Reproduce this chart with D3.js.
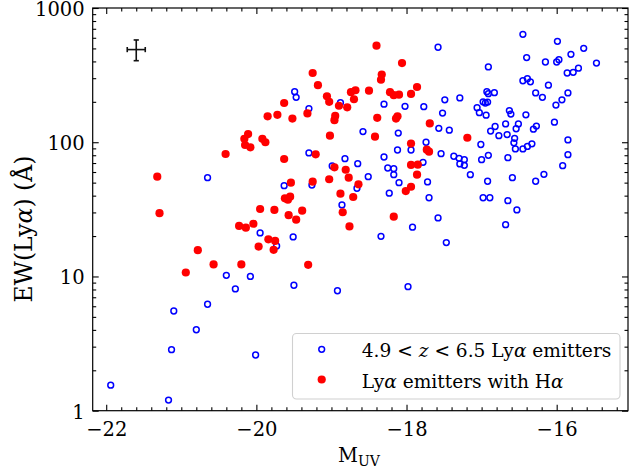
<!DOCTYPE html>
<html>
<head>
<meta charset="utf-8">
<script src="https://cdn.jsdelivr.net/npm/d3@7"></script>
<style>
  html, body { margin: 0; padding: 0; background: #fff; }
  svg { display: block; }
  text { font-family: "DejaVu Serif", serif; fill: #000; }
</style>
</head>
<body>
<script>
// ---- data ----
const blueMUV = [-17.58,-19.49,-19.47,-19.30,-18.88,-18.30,-18.02,-17.77,-17.49,-17.52,-17.57,-18.58,-18.11,-17.74,
  -16.45,-15.99,-15.64,-15.81,-16.40,-16.15,-16.00,-15.97,-15.47,-16.91,-15.71,-15.78,-15.86,-16.45,-16.39,-16.35,
  -16.11,-16.93,-16.91,-16.83,-16.28,-16.19,-15.85,-15.93,-17.29,-16.98,-16.95,-16.92,-16.01,-17.06,-17.03,-16.94,
  -16.63,-16.61,-16.41,-16.03,-17.43,-16.82,-16.88,-16.68,-16.51,-16.54,-16.27,-16.31,-16.77,-16.66,-16.56,-15.85,
  -17.01,-16.57,-16.33,-16.39,-20.65,-19.95,-20.40,-20.08,-20.28,-20.65,-21.10,-20.80,-21.13,-20.01,-21.94,-21.17,
  -19.30,-18.82,-18.65,-18.99,-18.51,-19.26,-19.63,-18.66,-18.86,-18.30,-18.25,-18.17,-18.17,-18.12,-17.94,-17.54,
  -17.78,-18.10,-17.72,-18.23,-17.70,-17.58,-17.92,-18.34,-19.51,-19.73,-17.47,-17.37,-17.30,-17.23,-17.29,-17.23,
  -16.91,-17.00,-16.55,-16.45,-16.65,-15.85,-15.92,-16.17,-16.28,-16.59,-17.15,-16.92,-16.98,-16.89,-16.65,-16.53,
  -16.68,-19.50,-18.92,-17.98];
const blueEW = [510,238,216,178,197,192,185,184,207,165,127,120,117,100,
  637,565,501,452,427,396,396,412,389,364,356,332,328,287,297,282,
  266,238,230,234,233,216,233,207,214,200,196,199,189,181,166,159,
  172,162,160,141,123,131,121,137,137,126,132,125,112,114,107,104,
  96.2,99,97.3,93.0,54.4,21.1,10.2,10.0,8.07,6.21,5.53,4.01,2.85,2.60,1.55,1.20,
  83.2,75.4,69.2,66.5,55.4,48.0,47.5,45.4,34.1,77.6,64.3,63.5,57.3,87.5,87.5,82.2,
  70.9,50.0,50.6,41.7,38.6,27.3,23.3,19.9,19.7,16.9,17.9,78.6,75.9,74.1,68.9,67.3,
  79.9,74.1,89.1,89.1,76.7,80.8,66.9,57.7,51.2,54.4,57.3,51.2,38.6,38.6,36.7,31.3,
  24.3,8.60,7.83,8.39];

const redMUV = [-18.40,-18.06,-19.25,-18.33,-18.34,-19.18,-17.86,-18.74,-18.68,-18.50,-18.22,-18.17,-18.10,-17.94,
  -19.06,-19.03,-18.70,-19.63,-18.90,-18.79,-19.85,-19.72,-19.52,-19.32,-18.95,-18.96,-18.39,-18.12,-18.14,-17.69,
  -19.02,-18.42,-17.94,-20.11,-20.16,-20.15,-20.08,-19.92,-19.88,-17.19,-20.41,-21.32,-21.29,-19.95,-20.23,-20.14,
  -20.04,-19.84,-19.97,-20.78,-20.57,-20.20,-20.94,-19.63,-19.21,-18.96,-18.81,-18.77,-19.03,-19.25,-19.54,-18.64,
  -19.62,-19.55,-19.58,-18.88,-18.71,-19.76,-19.39,-19.57,-19.47,-18.85,-18.76,-18.17,-17.73,-17.70,-17.94,-17.85,
  -17.86,-17.94,-18.01,-19.75,-19.77,-19.31];
const redEW = [524,389,328,319,292,266,258,236,244,242,236,224,226,229,
  220,200,209,196,187,182,156,160,150,164,157,146,152,156,150,138,
  112,110,97.7,115,106,95.4,91.7,106,100,108,81.7,55.4,29.6,31.8,23.8,23.1,
  24.7,18.9,16.7,15.7,12.3,12.3,10.7,75.0,81.3,65.0,62.4,54.4,53.0,50.8,50.0,48.6,
  38.2,39.3,37.3,41.4,39.1,31.3,30.9,28.6,26.5,30.1,23.6,27.9,88.0,85.1,67.7,68.0,
  57.3,46.6,43.3,18.4,15.8,12.2];

// typical uncertainty marker
const errCenter = [-21.6, 490];
const errMUV = 0.12;
const errEWRange = [405, 578];

const xMajorTicks = [-22, -20, -18, -16];
const yMajorTicks = [1, 10, 100, 1000];
const yTickLabels = ["1", "10", "100", "1000"];

// ---- layout ----
const W = 630, H = 472;
const L = 92.7, R = 628, T = 8, B = 410.7;

const svg = d3.select("body").append("svg").attr("width", W).attr("height", H);

const x = d3.scaleLinear().domain([-22.18, -15.05]).range([L, R]);
const y = d3.scaleLog().domain([1, 1000]).range([B, T]);

// points
const blue = blueMUV.map((v, i) => ({ x: v, y: blueEW[i] }));
const red = redMUV.map((v, i) => ({ x: v, y: redEW[i] }));

svg.append("g").selectAll("circle").data(blue).join("circle")
  .attr("cx", d => x(d.x)).attr("cy", d => y(d.y)).attr("r", 2.9)
  .attr("fill", "none").attr("stroke", "#0000ff").attr("stroke-width", 1.5);

svg.append("g").selectAll("circle").data(red).join("circle")
  .attr("cx", d => x(d.x)).attr("cy", d => y(d.y)).attr("r", 4.1)
  .attr("fill", "#ff0000");

// error bar marker
const eg = svg.append("g").attr("stroke", "#111").attr("stroke-width", 1.6);
const ex = x(errCenter[0]), ey = y(errCenter[1]);
const ex0 = x(errCenter[0] - errMUV), ex1 = x(errCenter[0] + errMUV);
const ey0 = y(errEWRange[0]), ey1 = y(errEWRange[1]);
eg.append("line").attr("x1", ex0).attr("x2", ex1).attr("y1", ey).attr("y2", ey);
eg.append("line").attr("x1", ex).attr("x2", ex).attr("y1", ey0).attr("y2", ey1);
eg.append("line").attr("x1", ex0).attr("x2", ex0).attr("y1", ey - 2.6).attr("y2", ey + 2.6);
eg.append("line").attr("x1", ex1).attr("x2", ex1).attr("y1", ey - 2.6).attr("y2", ey + 2.6);
eg.append("line").attr("x1", ex - 2.6).attr("x2", ex + 2.6).attr("y1", ey0).attr("y2", ey0);
eg.append("line").attr("x1", ex - 2.6).attr("x2", ex + 2.6).attr("y1", ey1).attr("y2", ey1);

// ---- axes (ticks inward on all sides) ----
const xMinor = d3.range(-22.0, -15.05, 0.2).map(v => +v.toFixed(2)).filter(v => !xMajorTicks.includes(v));
const yMinor = [];
[1, 10, 100].forEach(dec => { for (let k = 2; k <= 9; k++) yMinor.push(dec * k); });

const fmtX = d => (d < 0 ? "\u2212" : "") + Math.abs(d);

const gB = svg.append("g").attr("transform", `translate(0,${B})`)
  .call(d3.axisBottom(x).tickValues(xMajorTicks).tickSizeInner(-6).tickSizeOuter(0).tickPadding(11).tickFormat(fmtX));
const gBm = svg.append("g").attr("transform", `translate(0,${B})`)
  .call(d3.axisBottom(x).tickValues(xMinor).tickSizeInner(-3.5).tickSizeOuter(0).tickFormat(""));
const gT = svg.append("g").attr("transform", `translate(0,${T})`)
  .call(d3.axisTop(x).tickValues(xMajorTicks).tickSizeInner(-6).tickSizeOuter(0).tickFormat(""));
const gTm = svg.append("g").attr("transform", `translate(0,${T})`)
  .call(d3.axisTop(x).tickValues(xMinor).tickSizeInner(-3.5).tickSizeOuter(0).tickFormat(""));
const gL = svg.append("g").attr("transform", `translate(${L},0)`)
  .call(d3.axisLeft(y).tickValues(yMajorTicks).tickSizeInner(-6).tickSizeOuter(0).tickPadding(8)
    .tickFormat((d, i) => yTickLabels[i]));
const gLm = svg.append("g").attr("transform", `translate(${L},0)`)
  .call(d3.axisLeft(y).tickValues(yMinor).tickSizeInner(-3.5).tickSizeOuter(0).tickFormat(""));
const gR = svg.append("g").attr("transform", `translate(${R},0)`)
  .call(d3.axisRight(y).tickValues(yMajorTicks).tickSizeInner(-6).tickSizeOuter(0).tickFormat(""));
const gRm = svg.append("g").attr("transform", `translate(${R},0)`)
  .call(d3.axisRight(y).tickValues(yMinor).tickSizeInner(-3.5).tickSizeOuter(0).tickFormat(""));

[gB, gBm, gT, gTm, gL, gLm, gR, gRm].forEach(g => {
  g.select(".domain").remove();
  g.selectAll(".tick line").attr("stroke", "#000").attr("stroke-width", 1.1);
  g.selectAll("text").attr("font-family", "DejaVu Serif").attr("font-size", 19.5).attr("fill", "#000");
});
gL.selectAll(".tick text").attr("dy", "0.38em");

// frame
svg.append("rect").attr("x", L).attr("y", T).attr("width", R - L).attr("height", B - T)
  .attr("fill", "none").attr("stroke", "#000").attr("stroke-width", 1.2);

// axis labels
const xl = svg.append("text").attr("x", 338).attr("y", 461.5).attr("font-size", 19.5);
xl.append("tspan").text("M");
xl.append("tspan").attr("font-size", 14).attr("dy", 4).text("UV");

const yl = svg.append("text").attr("transform", "translate(32,229) rotate(-90)")
  .attr("text-anchor", "middle").attr("font-size", 23.5);
yl.append("tspan").text("EW(Ly");
yl.append("tspan").attr("font-style", "italic").text("\u03b1");
yl.append("tspan").text(") (\u00c5)");

// ---- legend ----
const lg = svg.append("g");
lg.append("rect").attr("x", 292.5).attr("y", 333.5).attr("width", 327.5).attr("height", 65.5)
  .attr("rx", 4).attr("fill", "#fff").attr("stroke", "#d0d0d0").attr("stroke-width", 1.1);
lg.append("circle").attr("cx", 321.7).attr("cy", 349.3).attr("r", 2.9)
  .attr("fill", "none").attr("stroke", "#0000ff").attr("stroke-width", 1.5);
lg.append("circle").attr("cx", 321.7).attr("cy", 379.5).attr("r", 4.1).attr("fill", "#ff0000");
const t1 = lg.append("text").attr("x", 361.7).attr("y", 357).attr("font-size", 18.6);
t1.append("tspan").text("4.9 < ");
t1.append("tspan").attr("font-style", "italic").text("z");
t1.append("tspan").text(" < 6.5 Ly");
t1.append("tspan").attr("font-style", "italic").text("\u03b1");
t1.append("tspan").text(" emitters");
const t2 = lg.append("text").attr("x", 361.7).attr("y", 387.5).attr("font-size", 18.6);
t2.append("tspan").text("Ly");
t2.append("tspan").attr("font-style", "italic").text("\u03b1");
t2.append("tspan").text(" emitters with H");
t2.append("tspan").attr("font-style", "italic").text("\u03b1");
</script>
</body>
</html>
